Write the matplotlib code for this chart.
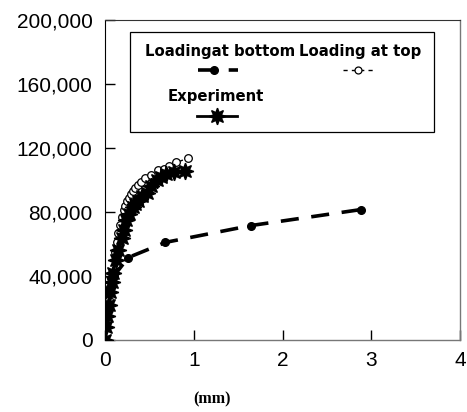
import matplotlib
matplotlib.use("Agg")
import matplotlib.pyplot as plt
from matplotlib.ticker import FuncFormatter
from matplotlib.patches import Rectangle

# load-displacement data
bottom_x = [0.0, 0.01, 0.03, 0.06, 0.10, 0.26, 0.68, 1.64, 2.88]
bottom_y = [0, 10000, 20000, 30000, 40000, 51500, 61000, 71500, 81500]

top_x = [0.0, 0.01, 0.02, 0.04, 0.06, 0.08, 0.11, 0.13, 0.15, 0.17, 0.19, 0.21, 0.23,
         0.25, 0.27, 0.29, 0.31, 0.34, 0.37, 0.40, 0.45, 0.52, 0.60, 0.66, 0.72, 0.80, 0.93]
top_y = [0, 8000, 16000, 25000, 33000, 42000, 55000, 61000, 67000, 72000, 77000, 81000,
         84000, 87000, 89000, 91000, 93000, 95000, 97000, 99000, 101000, 103000, 106000,
         107000, 108500, 111000, 113500]

exp_x = [0.0, 0.01, 0.02, 0.04, 0.06, 0.08, 0.09, 0.12, 0.15, 0.19, 0.21, 0.24, 0.27,
         0.31, 0.34, 0.37, 0.42, 0.47, 0.52, 0.58, 0.63, 0.69, 0.78, 0.90]
exp_y = [0, 8000, 15000, 22000, 30000, 36000, 42000, 50000, 56000, 64000, 69000, 75000,
         79000, 83000, 85000, 87000, 90000, 92000, 96000, 100000, 102000, 104000, 105000, 105500]

x_ticks = [0, 1, 2, 3, 4]
y_ticks = [0, 40000, 80000, 120000, 160000, 200000]

plt.rcParams['font.family'] = ['Liberation Sans', 'DejaVu Sans']

fig = plt.figure(figsize=(4.67, 4.12), dpi=100)
ax = fig.add_axes([0.225, 0.175, 0.760, 0.776])

ax.plot(top_x, top_y, color='black', linestyle=(0, (3, 3)), linewidth=1.0,
        marker='o', markersize=5.5, markerfacecolor='white', markeredgecolor='black',
        markeredgewidth=0.9, zorder=2)
ax.plot(bottom_x, bottom_y, color='black', linestyle=(0, (5, 3.5)), linewidth=2.6,
        marker='o', markersize=5.5, markerfacecolor='black', zorder=3)
ax.plot(exp_x, exp_y, color='black', linestyle='-', linewidth=2.0,
        marker=(8, 1, 0), markersize=12, markerfacecolor='black', zorder=4)

ax.set_xlim(0, 4)
ax.set_ylim(0, 200000)
ax.set_xticks(x_ticks)
ax.set_yticks(y_ticks)
ax.yaxis.set_major_formatter(FuncFormatter(lambda v, p: f"{int(v):,}"))
ax.tick_params(direction='in', length=7, width=1, labelsize=15, colors='black')
ax.tick_params(axis='y', pad=9)
ax.tick_params(axis='x', pad=8)
for side in ['right', 'bottom']:
    ax.spines[side].set_color('#777777')
    ax.spines[side].set_linewidth(1.0)
ax.spines['left'].set_color('black')
ax.spines['top'].set_color('#333333')
ax.set_xlabel('(mm)', family='Liberation Serif', fontweight='bold', fontsize=11.5, va='center')
ax.xaxis.set_label_coords(0.30, -0.1875)

# hand-built legend: label above each handle
ax.add_patch(Rectangle((0.070, 0.65), 0.858, 0.3125, transform=ax.transAxes,
                       fill=False, edgecolor='black', linewidth=0.9, zorder=5))
tr = ax.transAxes
leg_font = dict(family='DejaVu Sans', fontsize=10.7, fontweight='bold',
                ha='center', va='center', transform=tr)
ax.text(0.323, 0.903, 'Loadingat bottom', **leg_font)
ax.text(0.720, 0.903, 'Loading at top', **leg_font)
ax.text(0.312, 0.7625, 'Experiment', **leg_font)
ax.plot([0.262, 0.375], [0.844, 0.844], transform=tr, color='black',
        linestyle=(0, (5, 3.5)), linewidth=2.6, clip_on=False)
ax.plot([0.308], [0.844], transform=tr, marker='o', markersize=5.5, color='black', clip_on=False)
ax.plot([0.67, 0.757], [0.844, 0.844], transform=tr, color='black',
        linestyle=(0, (3, 3)), linewidth=1.0, clip_on=False)
ax.plot([0.713], [0.844], transform=tr, marker='o', markersize=5, markerfacecolor='white',
        markeredgecolor='black', markeredgewidth=0.9, clip_on=False)
ax.plot([0.259, 0.372], [0.70, 0.70], transform=tr, color='black', linewidth=2.0,
        clip_on=False)
ax.plot([0.315], [0.70], transform=tr, marker=(8, 1, 0), markersize=12, color='black',
        clip_on=False)

plt.savefig('out.png', dpi=100, facecolor='white')
